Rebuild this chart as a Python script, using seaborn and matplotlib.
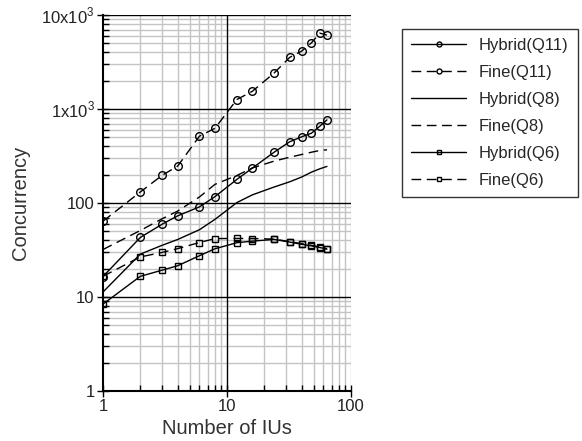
import numpy as np
import pandas as pd
import matplotlib
matplotlib.use("Agg")
import matplotlib.pyplot as plt
import seaborn as sns
from matplotlib.ticker import FixedLocator, FixedFormatter, LogLocator, NullFormatter

x_ius = [1, 2, 3, 4, 6, 8, 12, 16, 24, 32, 40, 48, 56, 64]
hybrid_q11 = [16.5, 43, 59.5, 73, 91, 117, 178, 235, 347, 448, 506, 553, 655, 766]
fine_q11 = [64, 131, 197, 247, 514, 624, 1260, 1542, 2415, 3535, 4130, 5060, 6410, 6110]
hybrid_q8 = [11.3, 28.6, 35.5, 40.9, 52, 67, 101, 122, 148, 168, 189, 213, 231, 245]
fine_q8 = [32, 51, 68, 82, 116, 158, 196, 236, 279, 307, 328, 347, 362, 368]
hybrid_q6 = [8.4, 16.6, 19.3, 21.5, 27.5, 32.6, 37.8, 39.3, 41.0, 38.4, 36.4, 35.0, 33.6, 32.3]
fine_q6 = [16.6, 26.7, 29.8, 32.7, 38.0, 41.8, 42.0, 41.9, 41.3, 38.8, 36.9, 35.4, 34.0, 32.5]

series_names = ["Hybrid(Q11)", "Fine(Q11)", "Hybrid(Q8)", "Fine(Q8)", "Hybrid(Q6)", "Fine(Q6)"]
series_vals = [hybrid_q11, fine_q11, hybrid_q8, fine_q8, hybrid_q6, fine_q6]
y_tick_vals = [1, 10, 100, 1000, 10000]
y_tick_labels = ["1", "10", "100", "1x10$^3$", "10x10$^3$"]
x_tick_vals = [1, 10, 100]
x_tick_labels = ["1", "10", "100"]

sns.set_theme(style="white")
plt.rcParams['font.family'] = ['Liberation Sans', 'DejaVu Sans']
plt.rcParams['mathtext.fontset'] = 'custom'
plt.rcParams['mathtext.rm'] = 'Liberation Sans'

fig = plt.figure(figsize=(5.82, 4.41), dpi=100)
ax = fig.add_axes([103/582, 1 - 391/441, (351-103)/582, (391-15)/441])

styles = {
    "Hybrid(Q11)": dict(linestyle="-", marker="o", ms=5.5),
    "Fine(Q11)": dict(linestyle=(0, (7, 4)), marker="o", ms=5.5),
    "Hybrid(Q8)": dict(linestyle="-", marker=None, ms=0),
    "Fine(Q8)": dict(linestyle=(0, (7, 4)), marker=None, ms=0),
    "Hybrid(Q6)": dict(linestyle="-", marker="s", ms=5.0),
    "Fine(Q6)": dict(linestyle=(0, (7, 4)), marker="s", ms=5.0),
}

for name, vals in zip(series_names, series_vals):
    df = pd.DataFrame({"x": x_ius, "y": vals})
    st = styles[name]
    kw = dict(color="black", linewidth=1.0, linestyle=st["linestyle"], label=name, zorder=3)
    if st["marker"]:
        kw.update(marker=st["marker"], markersize=st["ms"], markerfacecolor="none",
                  markeredgecolor="black", markeredgewidth=1.0)
    sns.lineplot(data=df, x="x", y="y", ax=ax, **kw)

ax.set_xscale("log")
ax.set_yscale("log")
ax.set_xlim(1, 100)
ax.set_ylim(1, 10000)

ax.xaxis.set_major_locator(FixedLocator(x_tick_vals))
ax.xaxis.set_major_formatter(FixedFormatter(x_tick_labels))
ax.yaxis.set_major_locator(FixedLocator(y_tick_vals))
ax.yaxis.set_major_formatter(FixedFormatter(y_tick_labels))
ax.xaxis.set_minor_locator(LogLocator(base=10, subs=np.arange(2, 10)))
ax.yaxis.set_minor_locator(LogLocator(base=10, subs=np.arange(2, 10)))
ax.xaxis.set_minor_formatter(NullFormatter())
ax.yaxis.set_minor_formatter(NullFormatter())

# minor grid below, major reference lines drawn above it
ax.grid(which="minor", color="#c4c4c4", linewidth=1.0)
ax.grid(which="major", visible=False)
ax.set_axisbelow(True)
for v in x_tick_vals[1:2]:
    ax.axvline(v, color="black", linewidth=1.0, zorder=1)
ax.axvline(100, color="#c4c4c4", linewidth=1.0, zorder=1)
for v in y_tick_vals[1:]:
    ax.axhline(v, color="black", linewidth=1.0, zorder=1)

ax.tick_params(which="major", direction="inout", length=8, width=1, color="black",
               labelsize=12, labelcolor="#222222", left=True, bottom=True, pad=2)
ax.tick_params(which="minor", direction="in", length=4, width=1, color="black",
               left=True, bottom=True)

for s in ["left", "bottom"]:
    ax.spines[s].set_color("black")
    ax.spines[s].set_linewidth(1.5)
    ax.spines[s].set_zorder(4)
for s in ["top", "right"]:
    ax.spines[s].set_visible(False)

ax.set_xlabel("Number of IUs", fontsize=14.5, color="#333333", labelpad=3)
ax.set_ylabel("Concurrency", fontsize=14.5, color="#333333", labelpad=8)

leg = ax.legend(loc="upper left", frameon=True, fancybox=False,
                edgecolor="black", fontsize=12, handlelength=3.3, labelspacing=0.72,
                borderpad=0.55, handletextpad=0.75, markerscale=0.65, borderaxespad=0)
leg.set_bbox_to_anchor((402/582, 1 - 29/441), transform=fig.transFigure)
leg.get_frame().set_linewidth(1.0)

fig.savefig("out.png", dpi=100)
